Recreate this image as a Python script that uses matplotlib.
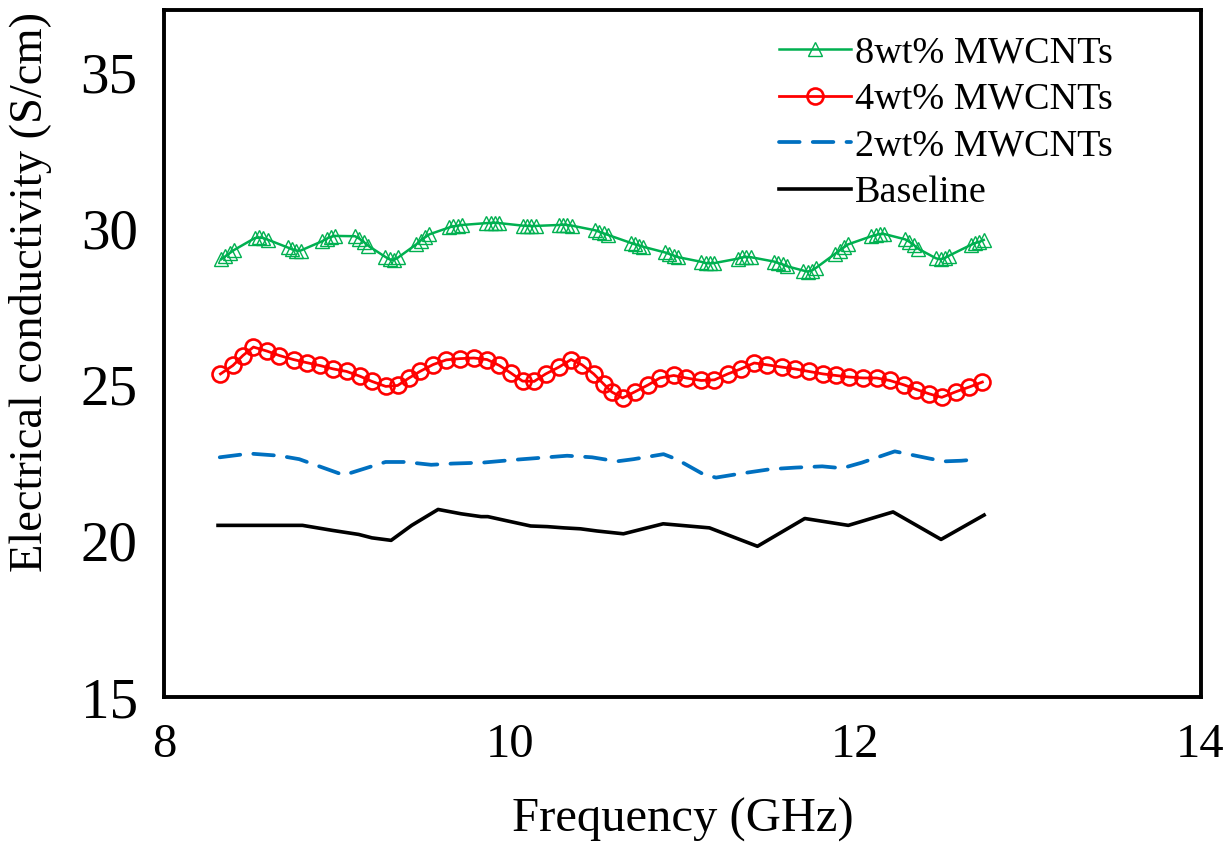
import matplotlib
matplotlib.use("Agg")
import matplotlib.pyplot as plt

plt.rcParams['font.family'] = ['Liberation Serif', 'DejaVu Serif']

# 8wt% MWCNTs (open triangles, clustered readings)
freq_8 = [8.330, 8.355, 8.380, 8.405, 8.525, 8.550, 8.575, 8.600,
          8.715, 8.740, 8.765, 8.790, 8.915, 8.940, 8.965, 8.990,
          9.105, 9.130, 9.155, 9.180, 9.280, 9.305, 9.330, 9.355,
          9.460, 9.485, 9.510, 9.535, 9.650, 9.675, 9.700, 9.725,
          9.865, 9.890, 9.915, 9.940, 10.075, 10.100, 10.125, 10.150,
          10.285, 10.310, 10.335, 10.360, 10.495, 10.520, 10.545, 10.570,
          10.700, 10.725, 10.750, 10.775, 10.900, 10.925, 10.950, 10.975,
          11.110, 11.135, 11.160, 11.185, 11.320, 11.345, 11.370, 11.395,
          11.530, 11.555, 11.580, 11.605, 11.700, 11.725, 11.750, 11.775,
          11.885, 11.910, 11.935, 11.960, 12.095, 12.120, 12.145, 12.170,
          12.290, 12.315, 12.340, 12.365, 12.470, 12.495, 12.520, 12.545,
          12.670, 12.695, 12.720, 12.745]
cond_8 = [29.02, 29.12, 29.22, 29.32, 29.70, 29.72, 29.70, 29.65,
          29.40, 29.34, 29.30, 29.30, 29.60, 29.68, 29.74, 29.77,
          29.76, 29.68, 29.58, 29.46, 29.10, 29.02, 29.00, 29.08,
          29.50, 29.62, 29.72, 29.82, 30.04, 30.08, 30.10, 30.12,
          30.18, 30.19, 30.19, 30.18, 30.10, 30.09, 30.09, 30.09,
          30.12, 30.13, 30.12, 30.10, 29.95, 29.90, 29.85, 29.80,
          29.55, 29.50, 29.46, 29.42, 29.24, 29.19, 29.14, 29.09,
          28.94, 28.90, 28.89, 28.90, 29.04, 29.08, 29.10, 29.09,
          28.95, 28.90, 28.86, 28.80, 28.66, 28.63, 28.66, 28.75,
          29.20, 29.30, 29.40, 29.50, 29.76, 29.80, 29.83, 29.83,
          29.66, 29.58, 29.48, 29.36, 29.05, 29.02, 29.06, 29.14,
          29.48, 29.54, 29.58, 29.64]

# 4wt% MWCNTs (open circles)
freq_4 = [8.326, 8.398, 8.456, 8.517, 8.596, 8.667, 8.749, 8.826, 8.901,
          8.979, 9.056, 9.132, 9.203, 9.283, 9.352, 9.418, 9.481, 9.557,
          9.634, 9.711, 9.793, 9.870, 9.941, 10.007, 10.075, 10.142,
          10.209, 10.286, 10.356, 10.420, 10.487, 10.544, 10.592, 10.655,
          10.726, 10.803, 10.870, 10.950, 11.023, 11.109, 11.186, 11.263,
          11.339, 11.416, 11.493, 11.575, 11.651, 11.732, 11.814, 11.889,
          11.966, 12.048, 12.125, 12.201, 12.283, 12.355, 12.431, 12.502,
          12.584, 12.661, 12.737]
cond_4 = [25.35, 25.62, 25.94, 26.21, 26.08, 25.94, 25.81, 25.71, 25.62,
          25.51, 25.43, 25.28, 25.11, 24.95, 24.98, 25.22, 25.43, 25.65,
          25.80, 25.84, 25.86, 25.81, 25.62, 25.38, 25.12, 25.11,
          25.35, 25.57, 25.81, 25.64, 25.35, 25.03, 24.77, 24.58,
          24.78, 25.00, 25.22, 25.30, 25.22, 25.14, 25.16, 25.35,
          25.51, 25.70, 25.64, 25.57, 25.51, 25.43, 25.35, 25.30,
          25.25, 25.22, 25.22, 25.14, 25.00, 24.85, 24.71, 24.60,
          24.78, 24.93, 25.09]

# 2wt% MWCNTs (dashed)
freq_2 = [8.322, 8.494, 8.667, 8.782, 9.040, 9.282, 9.397, 9.546, 9.672,
          9.845, 10.029, 10.218, 10.333, 10.477, 10.621, 10.718, 10.891,
          10.966, 11.121, 11.195, 11.339, 11.511, 11.655, 11.810, 11.925,
          12.040, 12.230, 12.431, 12.517, 12.615, 12.718]
cond_2 = [22.68, 22.80, 22.73, 22.62, 22.11, 22.53, 22.53, 22.44, 22.48,
          22.51, 22.60, 22.68, 22.73, 22.68, 22.55, 22.62, 22.78,
          22.62, 22.14, 22.03, 22.16, 22.30, 22.35, 22.39, 22.33,
          22.51, 22.87, 22.64, 22.55, 22.57, 22.62]

# Baseline
freq_0 = [8.312, 8.801, 8.973, 9.126, 9.203, 9.314, 9.433, 9.586, 9.720,
          9.835, 9.874, 9.989, 10.122, 10.218, 10.314, 10.410, 10.506,
          10.659, 10.889, 11.157, 11.435, 11.709, 11.961, 12.220, 12.498,
          12.747]
cond_0 = [20.50, 20.50, 20.34, 20.21, 20.10, 20.02, 20.50, 21.01, 20.87,
          20.78, 20.78, 20.64, 20.48, 20.46, 20.42, 20.39, 20.32,
          20.23, 20.55, 20.42, 19.83, 20.72, 20.50, 20.93, 20.05, 20.83]

fig = plt.figure(figsize=(12.25, 8.46), dpi=100)
ax = fig.add_axes([0.134, 0.176, 0.846, 0.812])

ax.plot(freq_8, cond_8, color='#00B050', lw=1.8, marker='^', ms=9.5,
        mfc='none', mec='#00B050', mew=1.0, label='8wt% MWCNTs')
ax.plot(freq_4, cond_4, color='#FF0000', lw=2.0, marker='o', ms=11.5,
        mfc='none', mec='#FF0000', mew=1.9, label='4wt% MWCNTs')
ax.plot(freq_2, cond_2, color='#0070C0', lw=2.7, ls=(0, (5.5, 3.5)),
        dash_capstyle='round', label='2wt% MWCNTs')
ax.plot(freq_0, cond_0, color='black', lw=2.6, label='Baseline')

ax.set_xlim(8, 14)
ax.set_ylim(15, 37)
ax.set_xticks([8, 10, 12, 14])
ax.set_yticks([15, 20, 25, 30, 35])
ax.tick_params(length=0)
ax.tick_params(axis='y', pad=19, labelsize=41)
ax.tick_params(axis='x', pad=19, labelsize=35)
for s in ax.spines.values():
    s.set_linewidth(2.8)
    s.set_color('black')

ax.set_xlabel('Frequency (GHz)', fontsize=35, labelpad=22)
ax.set_ylabel('Electrical conductivity (S/cm)', fontsize=33.5, labelpad=14)
ax.yaxis.set_label_coords(-0.108, 0.59)

ax.legend(loc='upper left', bbox_to_anchor=(0.593, 0.963), frameon=False,
          fontsize=27.5, handlelength=1.9, handletextpad=0.1,
          labelspacing=0.31, borderaxespad=0, borderpad=0)

fig.savefig('out.png', dpi=100)
